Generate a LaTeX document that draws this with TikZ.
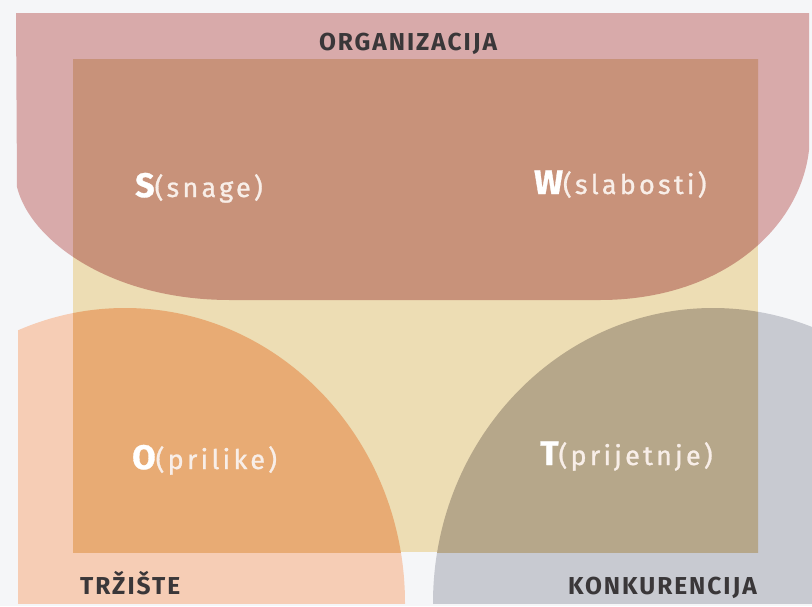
\documentclass[tikz,border=0pt]{standalone}
\usepackage{fontspec}
\setmainfont{Fira Sans}
\newfontfamily\capsfont[LetterSpace=8]{Fira Sans}
\newfontfamily\lblfont[LetterSpace=12,FakeBold=1]{Fira Sans}
\definecolor{bgc}{HTML}{F5F6F8}
\definecolor{pinkc}{HTML}{D8AAAA}
\definecolor{pinkrect}{HTML}{C8927A}
\definecolor{beigec}{HTML}{EDDDB4}
\definecolor{salmonc}{HTML}{F6CDB5}
\definecolor{salmonrect}{HTML}{E8AB74}
\definecolor{greyc}{HTML}{C8CAD1}
\definecolor{greyrect}{HTML}{B6A78A}
\definecolor{darktext}{HTML}{3A3739}
\definecolor{softwhite}{HTML}{F8EEE8}
\tikzset{
  areaname/.style={inner sep=0pt, text=darktext, font=\capsfont\bfseries\fontsize{24.5}{24.5}\selectfont},
  swot/.style={inner sep=0pt, text=softwhite, font=\lblfont\fontsize{27}{27}\selectfont},
}
\newcommand\bigletter[1]{{\fontsize{34}{34}\selectfont\bfseries\color{white}#1}}
\begin{document}
\begin{tikzpicture}[x=1pt,y=-1pt]
\useasboundingbox (0,0) rectangle (812,606);
\fill[bgc] (0,0) rectangle (812,606);
% organisation shape
\fill[pinkc] (16,13) -- (809,13) -- (809,150) .. controls (800,230) and (720,300) .. (600,300)
  -- (230,300) .. controls (110,300) and (30,240) .. (17,187) -- cycle;
% market shape
\begin{scope}
\clip (18,0) rectangle (812,603);
\fill[salmonc] (125,603) ellipse [x radius=280, y radius=295];
\end{scope}
% competition shape
\begin{scope}
\clip (0,0) rectangle (812,603);
\fill[greyc] (713,603) ellipse [x radius=280, y radius=295];
\end{scope}
% central rectangle
\fill[beigec] (73,59) rectangle (758,552);
\begin{scope}
\clip (73,59) rectangle (758,552);
\fill[pinkrect] (16,13) -- (809,13) -- (809,150) .. controls (800,230) and (720,300) .. (600,300)
  -- (230,300) .. controls (110,300) and (30,240) .. (17,187) -- cycle;
\fill[salmonrect] (125,603) ellipse [x radius=280, y radius=295];
\fill[greyrect] (713,603) ellipse [x radius=280, y radius=295];
\end{scope}
% labels
\node[areaname, anchor=base] (org) at (408,50) {ORGANIZACIJA};
\node[areaname, anchor=base west] (trz) at (80,594) {TRŽIŠTE};
\node[areaname, anchor=base east] (kon) at (757,594) {KONKURENCIJA};
\node[swot, anchor=base west] (s) at (135,197) {\bigletter{S}(snage)};
\node[swot, anchor=base west] (w) at (534,194) {\bigletter{W}(slabosti)};
\node[swot, anchor=base west] (o) at (132,469) {\bigletter{O}(prilike)};
\node[swot, anchor=base west] (t) at (540,465) {\bigletter{T}(prijetnje)};
\end{tikzpicture}
\end{document}
